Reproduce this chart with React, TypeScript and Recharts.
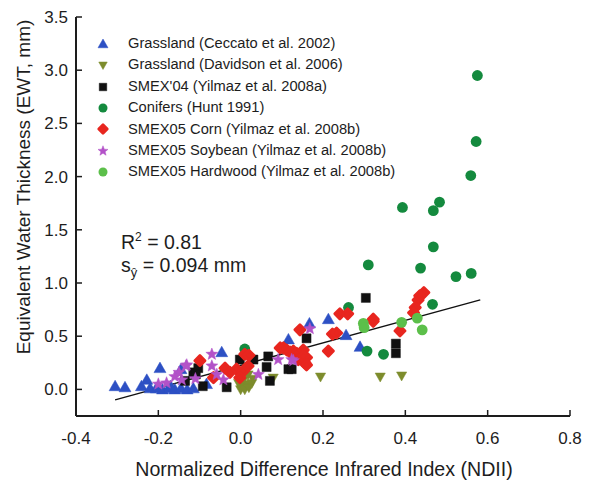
import React from 'react'
import { ScatterChart, Scatter, XAxis, YAxis, ReferenceLine } from 'recharts'

type Pt = { x: number; y: number }
const pts = (a: number[][]): Pt[] => a.map(([x, y]) => ({ x, y }))

const xTicks = [-0.4, -0.2, 0, 0.2, 0.4, 0.6, 0.8]
const yTicks = [0, 0.5, 1, 1.5, 2, 2.5, 3, 3.5]

const grassCeccato = pts([
  [-0.305, 0.03], [-0.281, 0.02], [-0.241, 0.03], [-0.228, 0.09], [-0.196, 0.2], [-0.145, 0.19],
  [-0.22, 0.01], [-0.205, 0.01], [-0.19, 0.0], [-0.175, 0.01], [-0.16, 0.0], [-0.145, 0.01],
  [-0.13, 0.0], [-0.115, 0.01], [-0.2, 0.02], [-0.17, 0.03], [-0.083, 0.05], [-0.046, 0.35],
  [0.116, 0.47], [0.167, 0.62], [0.213, 0.66], [0.256, 0.51], [0.29, 0.4],
])
const grassDavidson = pts([
  [0.0, 0.0], [0.002, 0.03], [0.01, 0.0], [0.015, 0.05], [0.006, 0.09], [0.027, 0.06],
  [0.018, 0.14], [0.008, 0.12], [-0.005, 0.06], [0.02, 0.02], [0.03, 0.1], [0.079, 0.11],
  [0.194, 0.12], [0.339, 0.12], [0.391, 0.13],
])
const smex04 = pts([
  [-0.135, 0.08], [-0.115, 0.16], [-0.103, 0.2], [-0.109, 0.14], [-0.092, 0.03], [-0.034, 0.02],
  [-0.002, 0.28], [0.031, 0.28], [0.067, 0.31], [0.063, 0.21], [0.071, 0.08], [0.116, 0.19],
  [0.124, 0.19], [0.16, 0.48], [0.304, 0.86], [0.377, 0.43], [0.377, 0.34],
])
const conifers = pts([
  [0.575, 2.95], [0.572, 2.33], [0.559, 2.01], [0.393, 1.71], [0.468, 1.68], [0.483, 1.76],
  [0.468, 1.34], [0.31, 1.17], [0.437, 1.14], [0.523, 1.06], [0.56, 1.09], [0.466, 0.8],
  [0.262, 0.77], [0.307, 0.36], [0.347, 0.33], [0.01, 0.38],
])
const corn = pts([
  [-0.099, 0.27], [-0.066, 0.11], [-0.038, 0.2], [0.01, 0.33], [0.02, 0.32], [-0.01, 0.19],
  [0.006, 0.17], [0.018, 0.22], [-0.026, 0.16], [-0.002, 0.11], [0.096, 0.39], [0.112, 0.37],
  [0.128, 0.36], [0.104, 0.39], [0.12, 0.35], [0.136, 0.34], [0.152, 0.37], [0.16, 0.3],
  [0.156, 0.25], [0.14, 0.28], [0.144, 0.56], [0.152, 0.31], [0.16, 0.23], [0.213, 0.36],
  [0.223, 0.52], [0.233, 0.53], [0.241, 0.71], [0.26, 0.71], [0.322, 0.66], [0.322, 0.64],
  [0.387, 0.55], [0.445, 0.91], [0.431, 0.84], [0.424, 0.77], [0.435, 0.88], [0.42, 0.72],
])
const soybean = pts([
  [-0.131, 0.23], [-0.16, 0.12], [-0.18, 0.06], [-0.2, 0.05], [-0.143, 0.09], [-0.133, 0.22],
  [-0.07, 0.33], [-0.07, 0.22], [-0.058, 0.14], [-0.042, 0.09], [0.043, 0.14], [0.091, 0.28],
  [0.124, 0.28], [0.128, 0.27], [0.168, 0.57], [-0.15, 0.16], [-0.11, 0.1],
])
const hardwood = pts([
  [0.298, 0.62], [0.3, 0.58], [0.391, 0.63], [0.429, 0.67], [0.441, 0.56],
])

// regression line end points
const fitLine = [
  { x: -0.305, y: -0.098 },
  { x: 0.582, y: 0.842 },
]

type Kind = 'up' | 'down' | 'square' | 'circle' | 'diamond' | 'star'

const series: { name: string; data: Pt[]; color: string; kind: Kind }[] = [
  { name: 'Grassland (Ceccato et al. 2002)', data: grassCeccato, color: '#2d50c4', kind: 'up' },
  { name: 'Grassland (Davidson et al. 2006)', data: grassDavidson, color: '#7d8c2c', kind: 'down' },
  { name: "SMEX'04 (Yilmaz et al. 2008a)", data: smex04, color: '#111111', kind: 'square' },
  { name: 'Conifers (Hunt 1991)', data: conifers, color: '#148a3e', kind: 'circle' },
  { name: 'SMEX05 Corn (Yilmaz et al. 2008b)', data: corn, color: '#e8261f', kind: 'diamond' },
  { name: 'SMEX05 Soybean (Yilmaz et al. 2008b)', data: soybean, color: '#b352c8', kind: 'star' },
  { name: 'SMEX05 Hardwood (Yilmaz et al. 2008b)', data: hardwood, color: '#5cbf4a', kind: 'circle' },
]

function markerPath(kind: Kind, cx: number, cy: number, s: number) {
  switch (kind) {
    case 'up':
      return `M${cx},${cy - s} L${cx + s},${cy + s * 0.75} L${cx - s},${cy + s * 0.75} Z`
    case 'down':
      return `M${cx},${cy + s * 0.9} L${cx + s * 0.85},${cy - s * 0.6} L${cx - s * 0.85},${cy - s * 0.6} Z`
    case 'square':
      return `M${cx - s * 0.75},${cy - s * 0.75} h${s * 1.5} v${s * 1.5} h${-s * 1.5} Z`
    case 'diamond':
      return `M${cx},${cy - s} L${cx + s},${cy} L${cx},${cy + s} L${cx - s},${cy} Z`
    case 'star': {
      let d = ''
      for (let i = 0; i < 10; i++) {
        const r = i % 2 === 0 ? s * 1.05 : s * 0.45
        const a = -Math.PI / 2 + (i * Math.PI) / 5
        d += `${i === 0 ? 'M' : 'L'}${cx + r * Math.cos(a)},${cy + r * Math.sin(a)} `
      }
      return d + 'Z'
    }
    default:
      return ''
  }
}

function Marker({ kind, cx, cy, color, s = 6 }: { kind: Kind; cx: number; cy: number; color: string; s?: number }) {
  if (kind === 'circle') return <circle cx={cx} cy={cy} r={s * 0.9} fill={color} />
  const size = kind === 'diamond' ? s * 0.85 : s
  return (
    <path
      d={markerPath(kind, cx, cy, size)}
      fill={color}
      stroke={color}
      strokeLinejoin="round"
      strokeWidth={kind === 'diamond' ? 2.8 : 0.5}
    />
  )
}

const font = '"Liberation Sans", Arial, sans-serif'
const ink = '#1d1d1d'

export default function App() {
  return (
    <div style={{ position: 'absolute', left: 0, top: 0, width: 590, height: 487, background: '#fff', fontFamily: font }}>
      <ScatterChart width={590} height={487} margin={{ top: 17, right: 20, bottom: 0, left: 0 }}>
        <XAxis
          xAxisId="x"
          dataKey="x"
          type="number"
          domain={[-0.4, 0.8]}
          ticks={xTicks}
          tickFormatter={(v: number) => v.toFixed(1)}
          height={71}
          tickSize={-6}
          tickMargin={22}
          axisLine={{ stroke: ink, strokeWidth: 2 }}
          tickLine={{ stroke: ink, strokeWidth: 1.5 }}
          tick={{ fill: ink, fontSize: 17, fontFamily: font }}
        />
        <XAxis
          xAxisId="top"
          orientation="top"
          type="number"
          domain={[-0.4, 0.8]}
          ticks={xTicks}
          height={0}
          tickSize={-6}
          tick={false}
          axisLine={{ stroke: ink, strokeWidth: 2 }}
          tickLine={{ stroke: ink, strokeWidth: 1.5 }}
        />
        <YAxis
          yAxisId="y"
          dataKey="y"
          type="number"
          domain={[-0.25, 3.5]}
          ticks={yTicks}
          tickFormatter={(v: number) => v.toFixed(1)}
          width={76}
          tickSize={-6}
          tickMargin={14}
          axisLine={{ stroke: ink, strokeWidth: 2 }}
          tickLine={{ stroke: ink, strokeWidth: 1.5 }}
          tick={{ fill: ink, fontSize: 17, fontFamily: font }}
        />
        <YAxis
          yAxisId="right"
          orientation="right"
          type="number"
          domain={[-0.25, 3.5]}
          ticks={yTicks}
          width={0}
          tickSize={-6}
          tick={false}
          axisLine={{ stroke: ink, strokeWidth: 2 }}
          tickLine={{ stroke: ink, strokeWidth: 1.5 }}
        />
        <ReferenceLine
          xAxisId="x"
          yAxisId="y"
          segment={fitLine}
          stroke="#111"
          strokeWidth={1.3}
        />
        {series.map((s) => (
          <Scatter
            key={s.name}
            name={s.name}
            xAxisId="x"
            yAxisId="y"
            data={s.data}
            fill={s.color}
            isAnimationActive={false}
            shape={(p: any) => <Marker kind={s.kind} cx={p.cx} cy={p.cy} color={s.color} />}
          />
        ))}
      </ScatterChart>

      {/* legend */}
      <div style={{ position: 'absolute', left: 95, top: 33, fontSize: 14.7, color: ink, lineHeight: '21.4px' }}>
        {series.map((s) => (
          <div key={s.name} style={{ display: 'flex', alignItems: 'center', whiteSpace: 'nowrap' }}>
            <svg width={16} height={16} style={{ marginRight: 17 }}>
              <Marker kind={s.kind} cx={8} cy={8} color={s.color} s={5} />
            </svg>
            <span>{s.name}</span>
          </div>
        ))}
      </div>

      {/* fit statistics */}
      <div style={{ position: 'absolute', left: 121, top: 226, fontSize: 19.5, color: ink, lineHeight: '23px', whiteSpace: 'nowrap' }}>
        <div>R<sup style={{ fontSize: 12 }}>2</sup> = 0.81</div>
        <div>s<sub style={{ fontSize: 13 }}>ŷ</sub> = 0.094 mm</div>
      </div>

      {/* axis titles */}
      <div style={{ position: 'absolute', left: 324, top: 469, transform: 'translate(-50%, -50%)', fontSize: 19.6, color: ink, whiteSpace: 'nowrap' }}>
        Normalized Difference Infrared Index (NDII)
      </div>
      <div style={{ position: 'absolute', left: 24, top: 187, transform: 'translate(-50%, -50%) rotate(-90deg)', fontSize: 19, color: ink, whiteSpace: 'nowrap' }}>
        Equivalent Water Thickness (EWT, mm)
      </div>
    </div>
  )
}
